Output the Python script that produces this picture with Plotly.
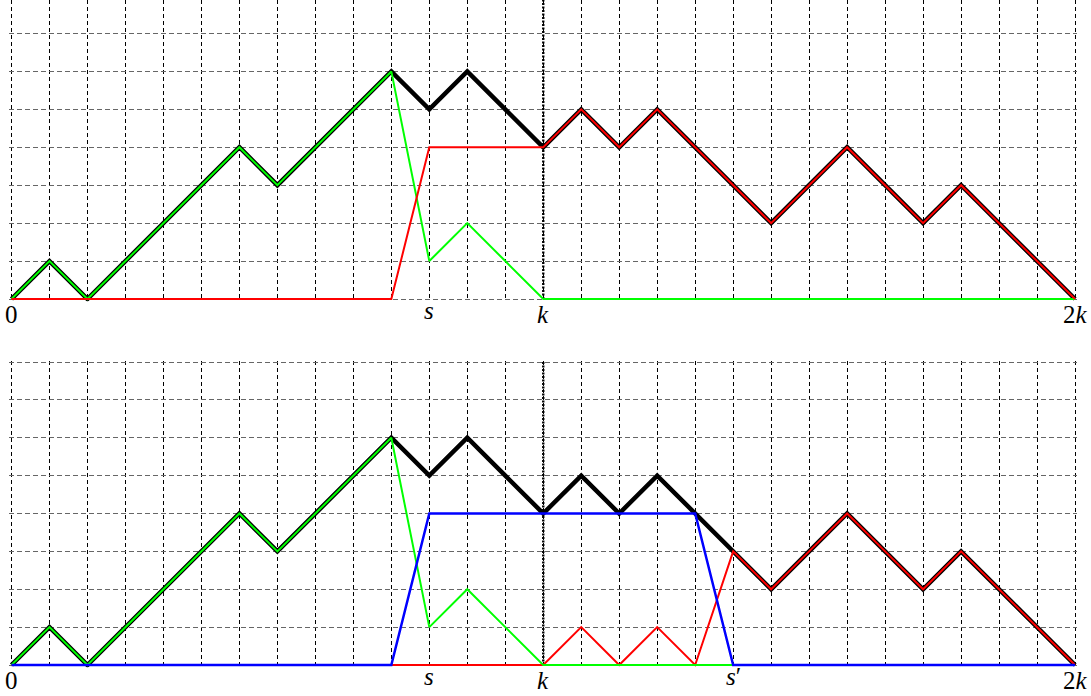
import plotly.graph_objects as go

# ---- data ----
K = 14
N = 2 * K
xs = list(range(N + 1))
black = [0, 1, 0, 1, 2, 3, 4, 3, 4, 5, 6, 5, 6, 5, 4, 5, 4, 5, 4, 3, 2, 3, 4, 3, 2, 3, 2, 1, 0]
green = [0, 1, 0, 1, 2, 3, 4, 3, 4, 5, 6, 1, 2, 1, 0, 0, 0, 0, 0, 0, 0, 0, 0, 0, 0, 0, 0, 0, 0]
red_top = [0, 0, 0, 0, 0, 0, 0, 0, 0, 0, 0, 4, 4, 4, 4, 5, 4, 5, 4, 3, 2, 3, 4, 3, 2, 3, 2, 1, 0]
red_bot = [0, 0, 0, 0, 0, 0, 0, 0, 0, 0, 0, 0, 0, 0, 0, 1, 0, 1, 0, 3, 2, 3, 4, 3, 2, 3, 2, 1, 0]
blue_bot = [0, 0, 0, 0, 0, 0, 0, 0, 0, 0, 0, 4, 4, 4, 4, 4, 4, 4, 4, 0, 0, 0, 0, 0, 0, 0, 0, 0, 0]
labels_top_x = [0, 11, 14, 28]
labels_top_t = ["0", "<i>s</i>", "<i>k</i>", "2<i>k</i>"]
labels_bot_x = [0, 11, 14, 19, 28]
labels_bot_t = ["0", "<i>s</i>", "<i>k</i>", "<i>s</i>\u2032", "2<i>k</i>"]

W, H = 1091, 696
fig = go.Figure()

def add_panel(fig, xa, ya, series, ytop):
    # dotted vertical line at k
    fig.add_trace(go.Scatter(x=[K, K], y=[0, ytop], mode="lines",
                             line=dict(color="black", width=2.4, dash="2px,1.5px"),
                             xaxis=xa, yaxis=ya, hoverinfo="skip", showlegend=False))
    for ys, col, w in series:
        fig.add_trace(go.Scatter(x=xs, y=ys, mode="lines",
                                 line=dict(color=col, width=w),
                                 xaxis=xa, yaxis=ya, hoverinfo="skip", showlegend=False))

add_panel(fig, "x", "y", [(black, "black", 4.5), (green, "#00ff00", 2), (red_top, "#ff0000", 2)], 8)
add_panel(fig, "x2", "y2", [(black, "black", 4.5), (red_bot, "#ff0000", 2), (green, "#00ff00", 2),
                            (blue_bot, "#0000ff", 2.5)], 8)

x0px, x1px = 11.5, 1075.0
sx = (x1px - x0px) / N
pad = 0.06
xdom = [(x0px - pad * sx) / W, (x1px + pad * sx) / W]

xaxis_common = dict(range=[-pad, N + pad], showgrid=True, gridcolor="black", griddash="4px,3px",
                    gridwidth=1, tick0=0, dtick=1, showticklabels=False, zeroline=False,
                    showline=False, ticks="", domain=xdom, fixedrange=True)
yaxis_common = dict(showgrid=True, gridcolor="#666666", griddash="5px,3px", gridwidth=1,
                    tick0=0, dtick=1, showticklabels=False, zeroline=False, showline=False,
                    ticks="", fixedrange=True)

# top panel: baseline at 299px, top of image cut
base_top = 299.0
sy_top = 37.93
ytop_max = base_top / sy_top
ydom_top = [(H - (base_top + pad * sy_top)) / H, 1.0]
# bottom panel: baseline at 665px, y=8 at 362px
base_bot = 665.0
sy_bot = (665.0 - 362.0) / 8
ybot_max = 8.03
ydom_bot = [(H - (base_bot + pad * sy_bot)) / H, (H - (base_bot - ybot_max * sy_bot)) / H]

fig.update_layout(
    width=W, height=H, margin=dict(l=0, r=0, t=0, b=0),
    paper_bgcolor="white", plot_bgcolor="white",
    xaxis=dict(xaxis_common, anchor="y"),
    yaxis=dict(yaxis_common, range=[-pad, ytop_max], domain=ydom_top, anchor="x"),
    xaxis2=dict(xaxis_common, anchor="y2"),
    yaxis2=dict(yaxis_common, range=[-pad, ybot_max], domain=ydom_bot, anchor="x2"),
)

font = dict(family="Liberation Serif", size=25, color="black")

def label_shift(t):
    # labels without ascenders sit a little higher (TeX 'below' anchoring)
    return 4 if t.startswith("<i>s") else 0

for lx, lt in zip(labels_top_x, labels_top_t):
    fig.add_annotation(x=lx, y=0, xref="x", yref="y", text=lt, showarrow=False,
                       yanchor="top", xanchor="center", yshift=label_shift(lt), font=font)
for lx, lt in zip(labels_bot_x, labels_bot_t):
    fig.add_annotation(x=lx, y=0, xref="x2", yref="y2", text=lt, showarrow=False,
                       yanchor="top", xanchor="center", yshift=label_shift(lt), font=font)

fig.write_html("out.html", config={"displayModeBar": False},
               post_script="document.body.style.margin='0';document.body.style.overflow='hidden';")
